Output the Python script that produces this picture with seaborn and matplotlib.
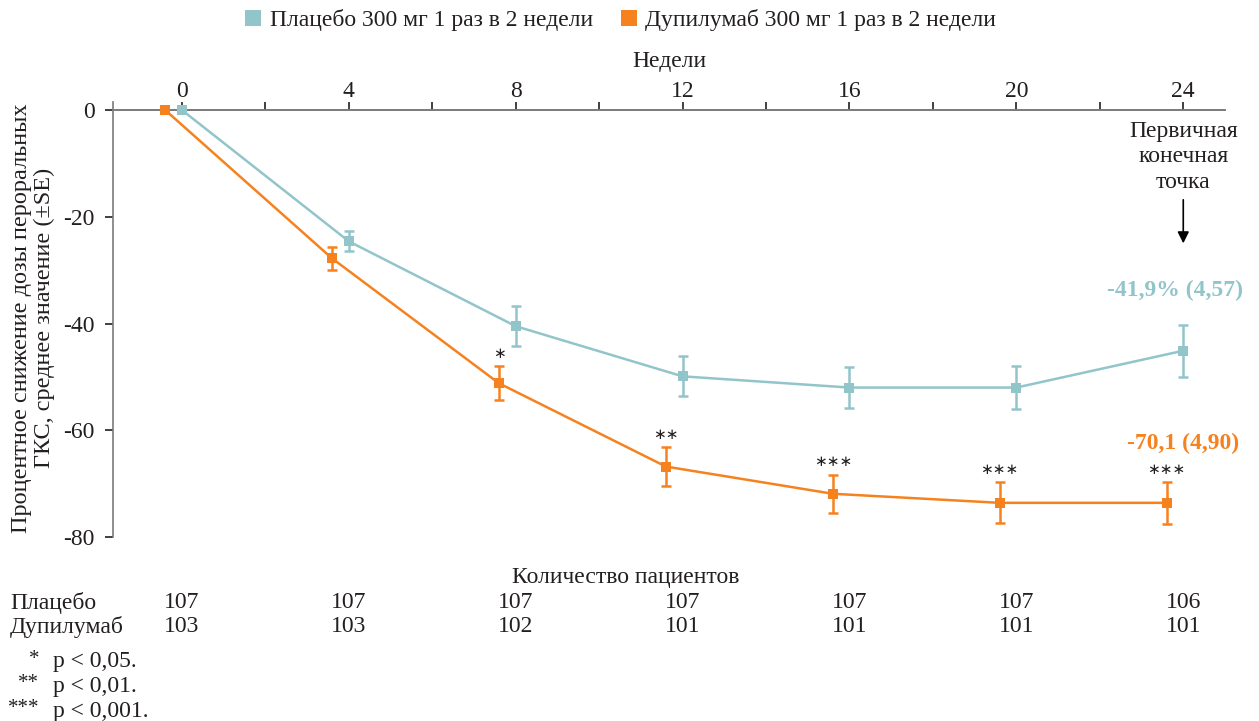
import matplotlib
matplotlib.use("Agg")
import matplotlib.pyplot as plt
import matplotlib.transforms as mtransforms
from matplotlib.lines import Line2D
import seaborn as sns
import pandas as pd
import numpy as np

# ---- data ----
weeks = [0, 4, 8, 12, 16, 20, 24]
placebo_mean = [0, -24.6, -40.5, -49.9, -52.0, -52.0, -45.1]
placebo_se = [0, 1.9, 3.7, 3.75, 3.8, 4.0, 4.9]
dupi_mean = [0, -27.8, -51.2, -66.8, -71.9, -73.6, -73.6]
dupi_se = [0, 2.1, 3.2, 3.6, 3.6, 3.85, 3.9]
dupi_stars = ["", "", "∗", "∗∗", "∗∗∗", "∗∗∗", "∗∗∗"]
placebo_n = [107, 107, 107, 107, 107, 107, 106]
dupi_n = [103, 103, 102, 101, 101, 101, 101]
label_placebo = "Плацебо 300 мг 1 раз в 2 недели"
label_dupi = "Дупилумаб 300 мг 1 раз в 2 недели"
endpoint_placebo = "-41,9% (4,57)"
endpoint_dupi = "-70,1 (4,90)"
yticks = [0, -20, -40, -60, -80]

TEAL = "#92c5ca"
ORANGE = "#f5821f"
GREY = "#7a7a7a"
TXT = "#231f20"
FS = 17

sns.set_theme(style="white")
plt.rcParams["font.family"] = ["Liberation Serif", "DejaVu Serif"]
plt.rcParams["text.color"] = TXT

offsets = {"placebo": 0.0, "dupi": -0.4}
df = pd.DataFrame({
    "week": weeks * 2,
    "mean": placebo_mean + dupi_mean,
    "se": placebo_se + dupi_se,
    "group": ["placebo"] * len(weeks) + ["dupi"] * len(weeks),
})
df["xpos"] = df["week"] + df["group"].map(offsets)

fig = plt.figure(figsize=(12.59, 7.21), dpi=100)
ax = fig.add_axes([113 / 1259, 1 - 537 / 721, (1225 - 113) / 1259, (537 - 102) / 721])

sns.lineplot(data=df, x="xpos", y="mean", hue="group",
             palette={"placebo": TEAL, "dupi": ORANGE},
             marker="s", markersize=7, markeredgewidth=0, linewidth=1.8,
             ax=ax, legend=False, zorder=3)
for g, c in (("placebo", TEAL), ("dupi", ORANGE)):
    sub = df[df["group"] == g]
    m = sub["se"] > 0
    ax.errorbar(sub["xpos"][m], sub["mean"][m], yerr=sub["se"][m], fmt="none",
                ecolor=c, elinewidth=1.8, capsize=3.5, capthick=1.8, zorder=2)

# stars
dsub = df[df["group"] == "dupi"].reset_index(drop=True)
for i, s in enumerate(dupi_stars):
    if s:
        ax.text(dsub["xpos"][i], dsub["mean"][i] + dsub["se"][i] + 2.4, s,
                ha="center", va="center", fontsize=11, color=TXT,
                family=["DejaVu Sans"])

ax.set_xlim(-1.65, 25.0)
ax.set_ylim(-80, 1.5)

# axes styling
for sp in ("right", "bottom"):
    ax.spines[sp].set_visible(False)
ax.spines["top"].set_position(("data", 0))
ax.spines["top"].set_color(GREY)
ax.spines["left"].set_color(GREY)
ax.spines["top"].set_linewidth(1.4)
ax.spines["left"].set_linewidth(1.2)
ax.xaxis.set_ticks_position("top")
ax.xaxis.set_label_position("top")
ax.set_xticks(weeks)
ax.set_xticks([2, 6, 10, 14, 18, 22], minor=True)
ax.tick_params(axis="x", which="both", direction="out", length=6, width=1.2,
               color=TXT, labelsize=FS, labelcolor=TXT, pad=0)
ax.set_yticks(yticks)
ax.set_yticklabels([str(v) for v in yticks])
ax.tick_params(axis="y", direction="out", length=6, width=1.2, color=TXT,
               labelsize=FS, labelcolor=TXT, pad=7, left=True)
ax.set_xlabel("Недели", fontsize=FS, labelpad=10, color=TXT)
ax.set_ylabel("")
ax.grid(False)

fig.text(33 / 1259, 1 - 318 / 721,
         "Процентное снижение дозы пероральных\nГКС, среднее значение (±SE)",
         rotation=90, ha="center", va="center", fontsize=17.5, linespacing=1.12)

# endpoint annotations
ax.text(24, -2.0, "Первичная\nконечная\nточка", ha="center", va="top",
        fontsize=FS, linespacing=1.28)
ax.annotate("", xy=(24, -25.5), xytext=(24, -16.3),
            arrowprops=dict(arrowstyle="-|>", color="black", lw=1.2,
                            mutation_scale=17))
ax.text(23.8, -33.8, endpoint_placebo, ha="center", va="center", fontsize=17,
        fontweight="bold", color=TEAL)
ax.text(24.0, -62.5, endpoint_dupi, ha="center", va="center", fontsize=17,
        fontweight="bold", color=ORANGE)

# legend
handles = [Line2D([], [], ls="none", marker="s", markersize=11, color=TEAL, markeredgewidth=0),
           Line2D([], [], ls="none", marker="s", markersize=11, color=ORANGE, markeredgewidth=0)]
fig.legend(handles, [label_placebo, label_dupi], loc="center",
           bbox_to_anchor=(620 / 1259, 1 - 20 / 721), ncol=2, frameon=False,
           fontsize=FS, handletextpad=0.3, columnspacing=1.1, handlelength=0.8)

# patient number table
trans = mtransforms.blended_transform_factory(ax.transData, fig.transFigure)
fig.text(626 / 1259, 1 - 577 / 721, "Количество пациентов", ha="center", va="center", fontsize=FS)
fig.text(10 / 1259, 1 - 603 / 721, "Плацебо", ha="left", va="center", fontsize=FS)
fig.text(10 / 1259, 1 - 627 / 721, "Дупилумаб", ha="left", va="center", fontsize=FS)
for w, n1, n2 in zip(weeks, placebo_n, dupi_n):
    ax.text(w, 1 - 603 / 721, str(n1), transform=trans, ha="center", va="center", fontsize=FS)
    ax.text(w, 1 - 627 / 721, str(n2), transform=trans, ha="center", va="center", fontsize=FS)

# footnotes
for k, (st, txt) in enumerate([("*", "p < 0,05."), ("**", "p < 0,01."), ("***", "p < 0,001.")]):
    y = 1 - (662 + 24.5 * k) / 721
    fig.text(39 / 1259, y + 0.004, st, ha="right", va="center", fontsize=15)
    fig.text(53 / 1259, y, txt, ha="left", va="center", fontsize=FS)

fig.savefig("out.png", dpi=100)
